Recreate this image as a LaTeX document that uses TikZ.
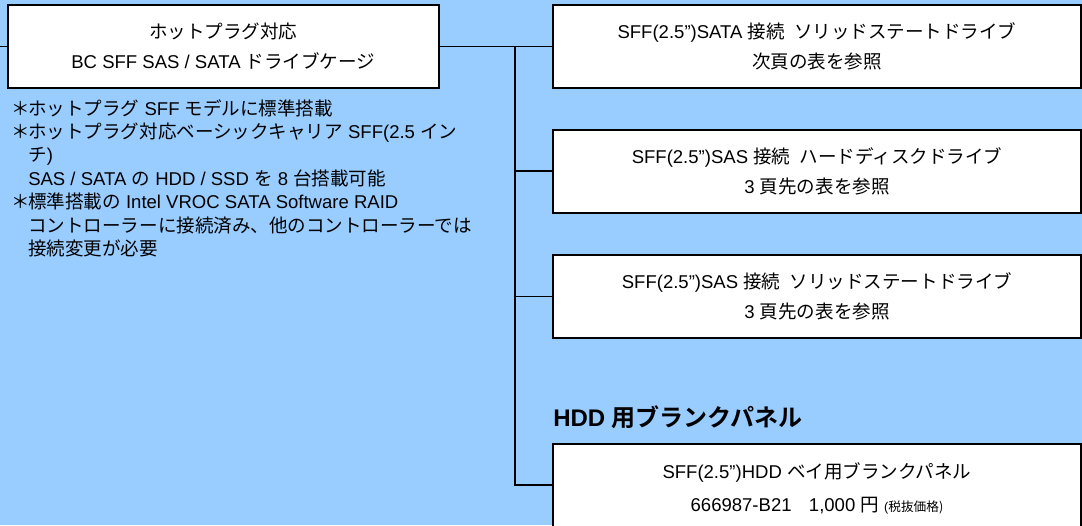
\documentclass[tikz,border=0pt]{standalone}
\usepackage{fontspec}
\setmainfont{Liberation Sans}
\newfontfamily\jp{Noto Sans CJK JP}[BoldFont={Noto Sans CJK JP Bold}]
\definecolor{bg}{RGB}{153,204,255}
\tikzset{
  box/.style={draw=black, line width=1.5pt, fill=white, inner sep=0pt, align=center,
    font=\fontsize{13.9}{22.5}\selectfont},
  rbox/.style={box, minimum width=396pt, minimum height=62.25pt},
  conn/.style={draw=black, line width=1pt},
  note/.style={anchor=north west, inner sep=0pt, align=left,
    font=\fontsize{13.9}{17.6}\selectfont},
  head/.style={anchor=west, inner sep=0pt, font=\bfseries\fontsize{18}{20}\selectfont},
}
\newcommand{\nast}{\makebox[12pt][c]{\jp ＊}}
\newcommand{\nind}{\hspace*{12pt}}
\begin{document}
\begin{tikzpicture}[x=0.75pt,y=-0.75pt]
\useasboundingbox (0,0) rectangle (1082,525);
\clip (0,0) rectangle (1082,525);
\fill[bg] (0,0) rectangle (1082,525);

\node[box, minimum width=323.6pt, minimum height=62.25pt] (lb) at (223.25,46.5)
  {{\jp ホットプラグ対応}\\BC SFF SAS / SATA {\jp ドライブケージ}};

\node[rbox] (b1) at (817,46.5)
  {SFF(2.5”)SATA {\jp 接続}\hspace{7pt}{\jp ソリッドステートドライブ}\\{\jp 次頁の表を参照}};
\node[rbox] (b2) at (817,171)
  {SFF(2.5”)SAS {\jp 接続}\hspace{7pt}{\jp ハードディスクドライブ}\\3 {\jp 頁先の表を参照}};
\node[rbox] (b3) at (817,296.5)
  {SFF(2.5”)SAS {\jp 接続}\hspace{7pt}{\jp ソリッドステートドライブ}\\3 {\jp 頁先の表を参照}};
\node[box, minimum width=396pt, minimum height=66pt,
      font=\fontsize{13.9}{24.75}\selectfont] (b4) at (817,488)
  {SFF(2.5”)HDD {\jp ベイ用ブランクパネル}\\666987-B21\hspace{13pt}1,000 {\jp 円} {\fontsize{9.5}{10}\selectfont(\jp 税抜価格)}};

\node[head] (h) at (553,417) {HDD {\jp 用ブランクパネル}};

\node[note] (n) at (12,99) {%
\nast{\jp ホットプラグ} SFF {\jp モデルに標準搭載}\\
\nast{\jp ホットプラグ対応ベーシックキャリア} SFF(2.5 {\jp イン}\\
\nind{\jp チ})\\
\nind SAS / SATA {\jp の} HDD / SSD {\jp を} 8 {\jp 台搭載可能}\\
\nast{\jp 標準搭載の} Intel VROC SATA Software RAID\\
\nind{\jp コントローラーに接続済み、他のコントローラーでは}\\
\nind{\jp 接続変更が必要}};

\coordinate (l0) at (0,46.5);
\coordinate (t) at (515,46.5);
\coordinate (bt) at (515,485);
\draw[conn] (l0) -- (lb.west);
\draw[conn] (lb.east) -- (b1.west);
\draw[conn] (t) -- (bt) -- (bt -| b4.west);
\draw[conn] (t |- b2.west) -- (b2.west);
\draw[conn] (t |- b3.west) -- (b3.west);
\end{tikzpicture}
\end{document}
